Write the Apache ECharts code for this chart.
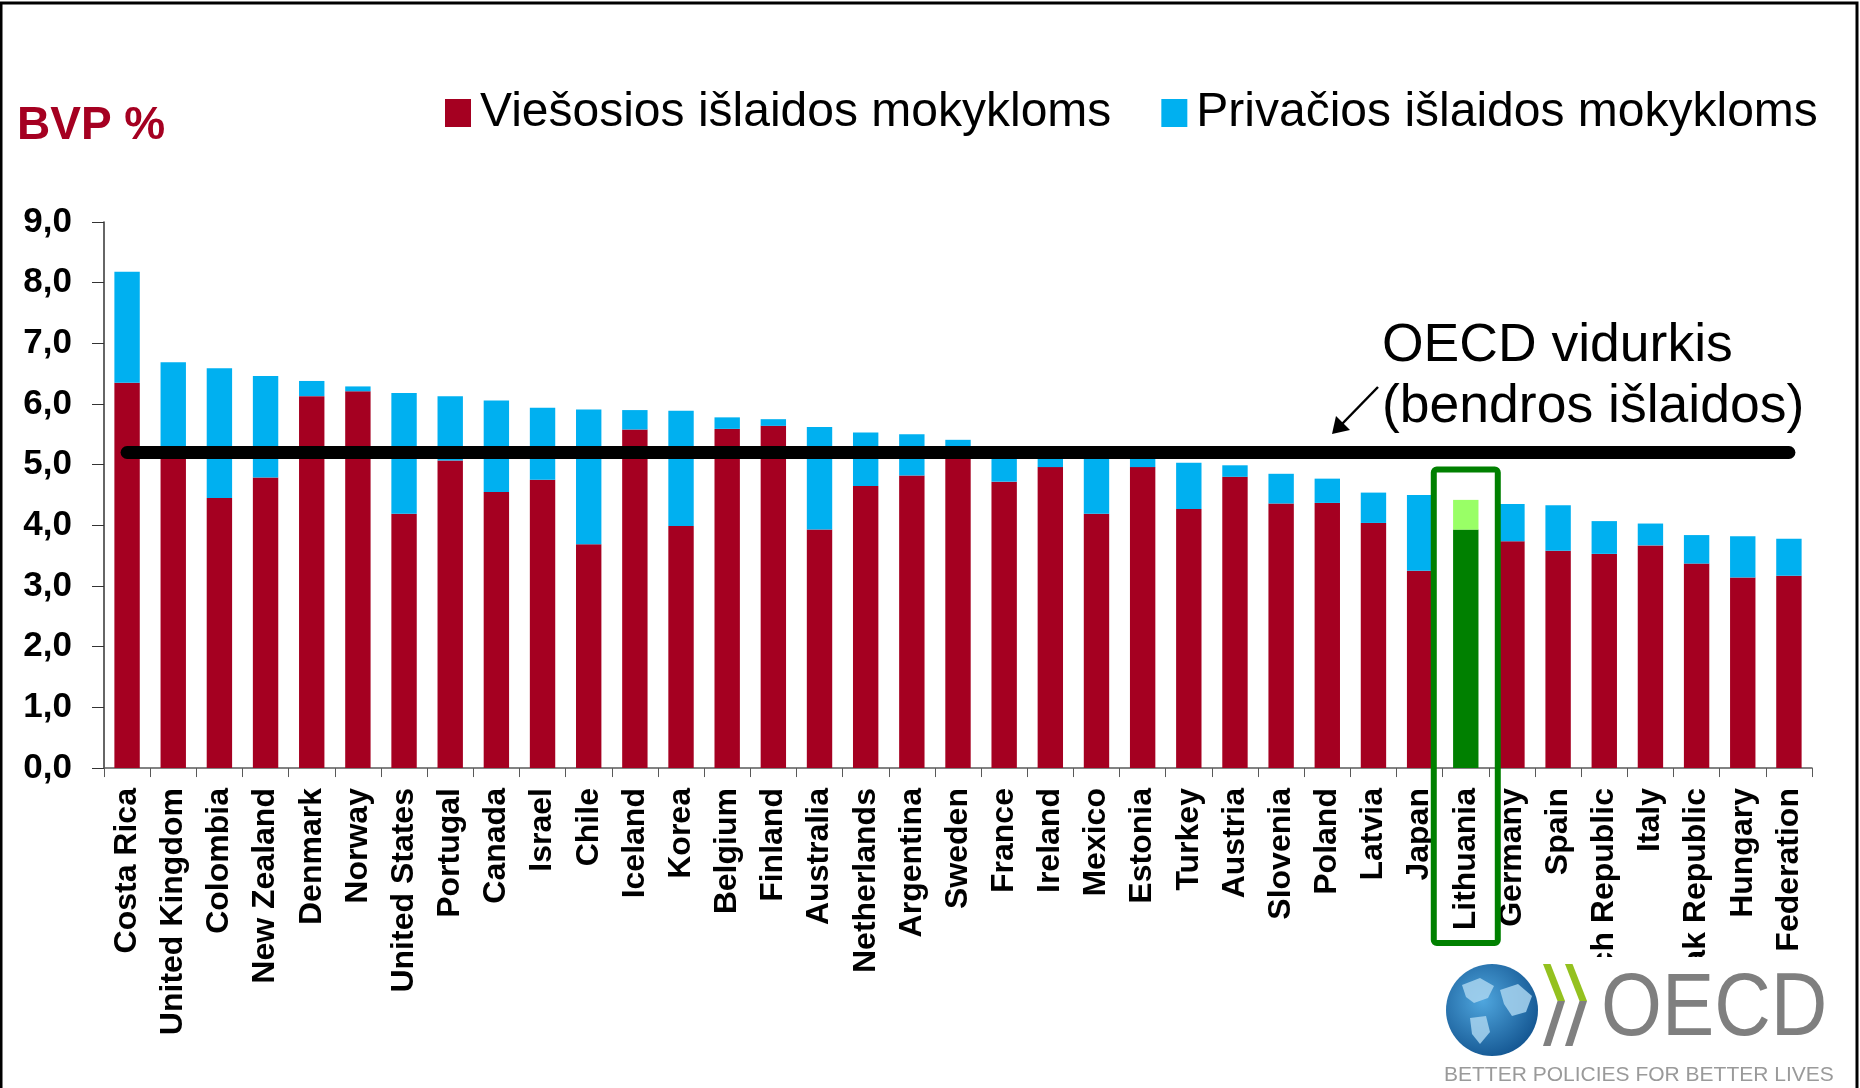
<!DOCTYPE html>
<html>
<head>
<meta charset="utf-8">
<title>Išlaidos mokykloms</title>
<script src="https://cdn.jsdelivr.net/npm/echarts@6.0.0/dist/echarts.min.js"></script>
<style>
    html, body {
        margin: 0;
        padding: 0;
        background: #fff;
    }
    #chart {
        width: 1860px;
        height: 1088px;
    }
</style>
</head>
<body>
<div id="chart"></div>
<script>
// šalys
const categories = ['Costa Rica', 'United Kingdom', 'Colombia', 'New Zealand', 'Denmark', 'Norway', 'United States',
    'Portugal', 'Canada', 'Israel', 'Chile', 'Iceland', 'Korea', 'Belgium', 'Finland', 'Australia', 'Netherlands',
    'Argentina', 'Sweden', 'France', 'Ireland', 'Mexico', 'Estonia', 'Turkey', 'Austria', 'Slovenia', 'Poland',
    'Latvia', 'Japan', 'Lithuania', 'Germany', 'Spain', 'Czech Republic', 'Italy', 'Slovak Republic', 'Hungary',
    'Russian Federation']

// viešosios išlaidos (% BVP)
const publicSpend = [6.35, 5.20, 4.45, 4.79, 6.13, 6.21, 4.19, 5.07, 4.55, 4.75, 3.69, 5.58, 3.99, 5.59, 5.64, 3.93,
    4.65, 4.82, 5.30, 4.72, 4.96, 4.19, 4.96, 4.27, 4.80, 4.36, 4.37, 4.04, 3.25, 3.93, 3.74, 3.58, 3.53, 3.67, 3.37,
    3.14, 3.17]

// privačios išlaidos (% BVP)
const privateSpend = [1.83, 1.49, 2.14, 1.67, 0.25, 0.08, 1.99, 1.06, 1.51, 1.19, 2.22, 0.32, 1.90, 0.19, 0.11, 1.69,
    0.88, 0.68, 0.11, 0.45, 0.19, 0.96, 0.19, 0.76, 0.19, 0.49, 0.40, 0.50, 1.25, 0.49, 0.61, 0.75, 0.54, 0.36, 0.47,
    0.68, 0.61]

// OECD vidurkis (bendros išlaidos)
const oecdAverage = 5.2
const highlightCountry = 'Lithuania'

const seriesNames = ['Viešosios išlaidos mokykloms', 'Privačios išlaidos mokykloms']

const FONT = '"Liberation Sans", Arial, sans-serif'
const RED = '#a50021'
const BLUE = '#00b0f0'
const GREEN = '#008000'
const LIGHT_GREEN = '#99ff66'

const chart = echarts.init(document.getElementById('chart'), null, { renderer: 'canvas' })

// Lietuvos stulpelis - žalias
const paint = (values, color) =>
    values.map((v, i) => (categories[i] === highlightCountry ? { value: v, itemStyle: { color } } : v))

chart.setOption({
    animation: false,
    backgroundColor: '#fff',
    textStyle: { fontFamily: FONT },
    title: {
        text: 'BVP %',
        left: 12,
        top: 98,
        textStyle: { fontFamily: FONT, fontSize: 46, fontWeight: 'bold', color: RED },
    },
    legend: {
        left: 440,
        top: 84,
        icon: 'rect',
        itemWidth: 26,
        itemHeight: 28,
        itemGap: 50,
        data: seriesNames,
        textStyle: { fontFamily: FONT, fontSize: 48, color: '#000', padding: [0, 0, 0, 4] },
    },
    grid: {
        left: 104,
        right: 48,
        top: 222,
        bottom: 317,
        containLabel: false,
    },
    xAxis: {
        type: 'category',
        data: categories,
        axisLine: { lineStyle: { color: '#595959', width: 1.5 } },
        axisTick: { show: true, length: 9, lineStyle: { color: '#595959' } },
        axisLabel: {
            interval: 0,
            rotate: 90,
            margin: 20,
            fontFamily: FONT,
            fontSize: 32,
            fontWeight: 'bold',
            color: '#000',
        },
    },
    yAxis: {
        type: 'value',
        min: 0,
        max: 9,
        interval: 1,
        splitLine: { show: false },
        axisLine: { show: true, lineStyle: { color: '#333', width: 1.5 } },
        axisTick: { show: true, length: 12, lineStyle: { color: '#333' } },
        axisLabel: {
            margin: 32,
            fontFamily: FONT,
            fontSize: 35,
            fontWeight: 'bold',
            color: '#000',
            formatter: (v) => v.toFixed(1).replace('.', ','),
        },
    },
    series: [
        {
            name: seriesNames[0],
            type: 'bar',
            stack: 'total',
            barWidth: '55%',
            itemStyle: { color: RED },
            emphasis: { disabled: true },
            data: paint(publicSpend, GREEN),
        },
        {
            name: seriesNames[1],
            type: 'bar',
            stack: 'total',
            barWidth: '55%',
            itemStyle: { color: BLUE },
            emphasis: { disabled: true },
            data: paint(privateSpend, LIGHT_GREEN),
            // OECD vidurkio linija
            markLine: {
                silent: true,
                symbol: ['none', 'none'],
                label: { show: false },
                z: 10,
                lineStyle: { color: '#000', width: 13, type: 'solid', cap: 'round' },
                data: [
                    [
                        { coord: [categories[0], oecdAverage] },
                        { coord: [categories[categories.length - 1], oecdAverage] },
                    ],
                ],
            },
        },
    ],
})

// anotacijos, rėmelis ir logotipas
const ltX = chart.convertToPixel({ xAxisIndex: 0 }, highlightCountry)
const boxTop = chart.convertToPixel({ yAxisIndex: 0 }, 4.92)

// OECD logotipo rodyklės (žalia viršuje, pilka apačioje)
const chevron = (x0, top, mid, bottom) => [
    {
        type: 'polygon',
        shape: { points: [[x0, top], [x0 + 7.5, top], [x0 + 22, mid], [x0 + 14.5, mid]] },
        style: { fill: '#94c11f' },
    },
    {
        type: 'polygon',
        shape: { points: [[x0 + 14.5, mid], [x0 + 22, mid], [x0 + 7.5, bottom], [x0, bottom]] },
        style: { fill: '#808080' },
    },
]

chart.setOption({
    graphic: [
        // išorinis rėmelis
        {
            type: 'rect',
            silent: true,
            shape: { x: 1, y: 3, width: 1856, height: 1200 },
            style: { fill: 'none', stroke: '#000', lineWidth: 3 },
            z: 100,
        },
        // Lietuvos rėmelis
        {
            type: 'rect',
            silent: true,
            shape: { x: ltX - 32, y: boxTop, width: 64, height: 943 - boxTop, r: 3 },
            style: { fill: 'none', stroke: GREEN, lineWidth: 6 },
            z: 50,
        },
        {
            type: 'text',
            silent: true,
            style: {
                x: 1382, y: 346, text: 'OECD vidurkis', fill: '#000',
                font: '53.5px ' + FONT, textAlign: 'left', textVerticalAlign: 'middle',
            },
            z: 50,
        },
        {
            type: 'text',
            silent: true,
            style: {
                x: 1382, y: 407, text: '(bendros išlaidos)', fill: '#000',
                font: '53.5px ' + FONT, textAlign: 'left', textVerticalAlign: 'middle',
            },
            z: 50,
        },
        // rodyklė
        {
            type: 'line',
            silent: true,
            shape: { x1: 1378, y1: 387, x2: 1342, y2: 424 },
            style: { stroke: '#000', lineWidth: 2.5 },
            z: 50,
        },
        {
            type: 'polygon',
            silent: true,
            shape: { points: [[1332, 434], [1336, 416], [1350, 430]] },
            style: { fill: '#000' },
            z: 50,
        },
        // OECD logotipas ant balto fono
        {
            type: 'rect',
            silent: true,
            shape: { x: 1440, y: 957, width: 415, height: 131 },
            style: { fill: '#fff' },
            z: 60,
        },
        {
            type: 'circle',
            silent: true,
            shape: { cx: 1492, cy: 1010, r: 46 },
            style: {
                fill: {
                    type: 'radial', x: 0.4, y: 0.4, r: 0.75,
                    colorStops: [{ offset: 0, color: '#4fa6de' }, { offset: 1, color: '#0b4a86' }],
                },
            },
            z: 61,
        },
        {
            type: 'polygon',
            silent: true,
            shape: { points: [[1462, 985], [1480, 978], [1494, 986], [1488, 998], [1474, 1003], [1466, 997]] },
            style: { fill: '#a8d4ef', opacity: 0.85 },
            z: 62,
        },
        {
            type: 'polygon',
            silent: true,
            shape: { points: [[1500, 990], [1518, 984], [1532, 996], [1526, 1012], [1512, 1016], [1504, 1004]] },
            style: { fill: '#a8d4ef', opacity: 0.85 },
            z: 62,
        },
        {
            type: 'polygon',
            silent: true,
            shape: { points: [[1470, 1018], [1486, 1016], [1490, 1032], [1480, 1044], [1472, 1034]] },
            style: { fill: '#a8d4ef', opacity: 0.85 },
            z: 62,
        },
        ...chevron(1543, 964, 1001, 1046).map((g) => ({ ...g, silent: true, z: 61 })),
        ...chevron(1565, 964, 1001, 1046).map((g) => ({ ...g, silent: true, z: 61 })),
        {
            type: 'text',
            silent: true,
            x: 1601,
            y: 1010,
            scaleX: 0.88,
            style: {
                x: 0, y: 0, text: 'OECD', fill: '#7f7f7f',
                font: '89px ' + FONT, textAlign: 'left', textVerticalAlign: 'middle',
            },
            z: 61,
        },
        {
            type: 'text',
            silent: true,
            style: {
                x: 1444, y: 1075, text: 'BETTER POLICIES FOR BETTER LIVES', fill: '#9a9a9a',
                font: '21px ' + FONT, textAlign: 'left', textVerticalAlign: 'middle',
            },
            z: 61,
        },
    ],
})

window.addEventListener('resize', () => chart.resize())
</script>
</body>
</html>
